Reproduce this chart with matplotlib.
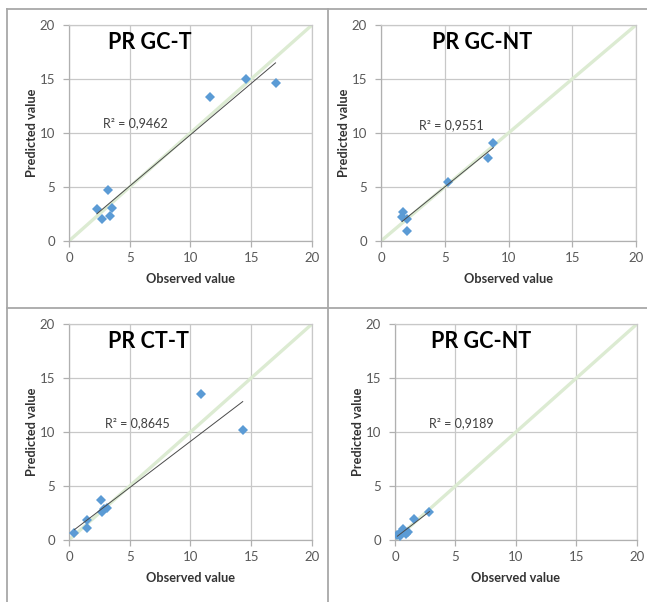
import numpy as np
import matplotlib
matplotlib.use("Agg")
import matplotlib.pyplot as plt
from matplotlib.lines import Line2D

plt.rcParams['font.family'] = ['Lato', 'DejaVu Sans']

# panel titles and R² labels as printed on the chart
titles = ['PR GC-T', 'PR GC-NT', 'PR CT-T', 'PR GC-NT']
r2_labels = ['R² = 0,9462', 'R² = 0,9551', 'R² = 0,8645', 'R² = 0,9189']

# observed / predicted values
gct_obs = [2.3, 2.7, 3.25, 3.4, 3.55, 11.6, 14.6, 17.0]
gct_pred = [2.95, 2.05, 4.7, 2.35, 3.1, 13.35, 15.0, 14.65]

gcnt_obs = [1.7, 1.65, 2.05, 2.05, 5.25, 8.4, 8.8]
gcnt_pred = [2.7, 2.2, 2.0, 0.95, 5.5, 7.7, 9.1]

ctt_obs = [0.45, 1.5, 1.5, 2.65, 2.7, 2.9, 3.1, 10.9, 14.3]
ctt_pred = [0.65, 1.85, 1.1, 3.7, 2.6, 2.85, 3.0, 13.5, 10.15]

gcnt2_obs = [0.2, 0.4, 0.5, 0.7, 0.95, 1.05, 1.55, 2.85]
gcnt2_pred = [0.5, 0.4, 0.75, 1.0, 0.6, 0.7, 1.95, 2.6]

one_to_one = [0, 20]
ticks = [0, 5, 10, 15, 20]

observed = [gct_obs, gcnt_obs, ctt_obs, gcnt2_obs]
predicted = [gct_pred, gcnt_pred, ctt_pred, gcnt2_pred]

fig = plt.figure(figsize=(6.47, 6.02), dpi=100)

rects = [(0.1066, 0.5997, 0.3756, 0.3588),
         (0.5889, 0.5997, 0.3941, 0.3588),
         (0.1066, 0.1030, 0.3756, 0.3588),
         (0.6105, 0.1030, 0.3740, 0.3588)]
title_x = [0.16, 0.20, 0.16, 0.149]
r2_pos = [(0.139, 0.546), (0.148, 0.537), (0.148, 0.54), (0.142, 0.54)]

grid_col = '#c8c8c8'
axis_col = '#b0b0b0'
text_col = '#595959'

for i in range(4):
    ax = fig.add_axes(rects[i])
    x = np.array(observed[i])
    y = np.array(predicted[i])

    ax.set_xlim(0, 20)
    ax.set_ylim(0, 20)
    ax.set_xticks(ticks)
    ax.set_yticks(ticks)
    ax.grid(True, color=grid_col, lw=0.9)
    ax.set_axisbelow(True)
    for s in ['top', 'right']:
        ax.spines[s].set_color(grid_col)
        ax.spines[s].set_linewidth(0.9)
    for s in ['left', 'bottom']:
        ax.spines[s].set_color(axis_col)
        ax.spines[s].set_linewidth(0.9)
    ax.tick_params(direction='out', length=4, width=0.9, color=axis_col,
                   labelcolor=text_col, labelsize=9.5)
    ax.tick_params(axis='x', pad=4)
    ax.tick_params(axis='y', pad=6)

    # 1:1 line
    ax.plot(one_to_one, one_to_one, color='#dcebd2', lw=2.4, zorder=2,
            solid_capstyle='butt')

    # linear trendline
    fit = np.polyfit(x, y, 1)
    xs = np.array([x.min(), x.max()])
    ax.plot(xs, np.polyval(fit, xs), color='#4a4a4a', lw=0.7, zorder=4)

    ax.plot(x, y, 'D', color='#5b9bd5', markersize=5.5, zorder=3,
            markeredgewidth=0)

    ax.text(title_x[i], 0.917, titles[i], transform=ax.transAxes,
            fontsize=15.5, fontweight='bold', color='black', va='center')
    ax.text(r2_pos[i][0], r2_pos[i][1], r2_labels[i], transform=ax.transAxes,
            fontsize=9, color='#404040', va='center')

    w_px = rects[i][2] * 647
    ax.text(0.5, -38 / 216, 'Observed value', transform=ax.transAxes,
            fontsize=9.2, fontweight='bold', color='#333333',
            ha='center', va='center')
    ax.text(-37 / w_px, 0.5, 'Predicted value', transform=ax.transAxes,
            fontsize=9.2, fontweight='bold', color='#333333',
            ha='center', va='center', rotation=90)

# panel frame lines
frame_col = '#a8a8a8'
x_left, x_mid = 7 / 647, 328 / 647
y_top, y_mid = 1 - 9 / 602, 1 - 308 / 602
for xs_, ys_ in [([x_left, 1], [y_top, y_top]),
                 ([x_left, 1], [y_mid, y_mid]),
                 ([x_left, x_left], [0, y_top]),
                 ([x_mid, x_mid], [0, y_top])]:
    fig.add_artist(Line2D(xs_, ys_, transform=fig.transFigure,
                          color=frame_col, lw=1.3))

fig.savefig('out.png', dpi=100)
